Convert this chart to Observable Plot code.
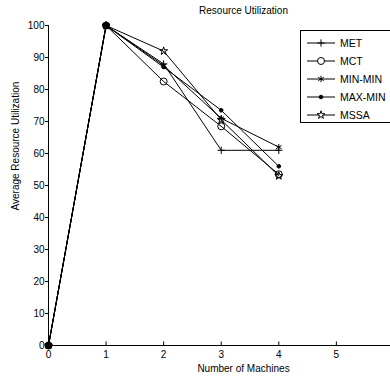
<!DOCTYPE html>
<html>
<head>
<meta charset="utf-8">
<script src="https://cdn.jsdelivr.net/npm/d3@7"></script>
<script src="https://cdn.jsdelivr.net/npm/@observablehq/plot@0.6"></script>
<style>
  html, body { margin: 0; padding: 0; background: #fff; }
  #wrap { position: relative; width: 390px; height: 383px; overflow: hidden; font-family: "Liberation Sans", Arial, sans-serif; }
  #legend { position: absolute; left: 300px; top: 30px; }
</style>
</head>
<body>
<div id="wrap"></div>
<script>
const machines = [0, 1, 2, 3, 4];
const seriesNames = ["MET", "MCT", "MIN-MIN", "MAX-MIN", "MSSA"];
const MET = [0, 100, 88, 61, 61];
const MCT = [0, 100, 82.5, 68.5, 53.5];
const MINMIN = [0, 100, 87.5, 71, 62];
const MAXMIN = [0, 100, 87, 73.5, 56];
const MSSA = [0, 100, 92, 70.5, 53];
const xTicks = [0, 1, 2, 3, 4, 5];
const yTicks = [0, 10, 20, 30, 40, 50, 60, 70, 80, 90, 100];
const symbols = {"MET": "plus", "MCT": "circle", "MIN-MIN": "asterisk", "MAX-MIN": "circle", "MSSA": "star"};
const symR = {"MET": 2.5, "MCT": 3.5, "MIN-MIN": 3, "MAX-MIN": 1.8, "MSSA": 2.5};
const symFill = {"MET": "none", "MCT": "none", "MIN-MIN": "none", "MAX-MIN": "black", "MSSA": "none"};

const valuesBySeries = [MET, MCT, MINMIN, MAXMIN, MSSA];
const rows = [];
seriesNames.forEach((s, i) => machines.forEach((m, j) => rows.push({series: s, x: m, y: valuesBySeries[i][j]})));

const marks = [
  Plot.ruleY([0], {stroke: "black", strokeWidth: 1.2}),
  Plot.ruleX([0], {stroke: "black", strokeWidth: 1}),
  Plot.ruleX(xTicks.filter(d => d > 0), {y1: 0, y2: 1.1, stroke: "black", strokeWidth: 1}),
  Plot.axisX({ticks: xTicks, tickSize: 0, tickPadding: 5, tickFormat: d3.format("d"), fontSize: 10, label: null}),
  Plot.axisY({ticks: yTicks, tickSize: 3, tickPadding: 1, fontSize: 10, label: null}),
  Plot.line(rows, {x: "x", y: "y", z: "series", stroke: "black", strokeWidth: 1})
];
seriesNames.forEach(s => {
  marks.push(Plot.dot(rows.filter(r => r.series === s), {
    x: "x", y: "y", symbol: () => symbols[s], r: symR[s], stroke: "black", fill: symFill[s], strokeWidth: 1
  }));
});
// overlapping blobs at common points
marks.push(Plot.dot(rows.filter(r => r.x <= 1 && r.series === "MCT"), {x: "x", y: "y", r: 3.5, fill: "black"}));
marks.push(Plot.text(["Resource Utilization"], {frameAnchor: "top", text: d => d, dy: -19, fontSize: 10, dx: 24}));
marks.push(Plot.text(["Number of Machines"], {frameAnchor: "bottom", text: d => d, dy: 26, fontSize: 10, dx: 24}));
marks.push(Plot.text(["Average Resource Utilization"], {frameAnchor: "left", text: d => d, rotate: -90, dx: -33, dy: 25, fontSize: 10}));

const chart = Plot.plot({
  width: 390,
  height: 383,
  marginLeft: 48,
  marginRight: 0,
  marginTop: 25,
  marginBottom: 38,
  x: {domain: [0, 5.94]},
  y: {domain: [0, 100]},
  style: {fontFamily: "'Liberation Sans', Arial, sans-serif", fontSize: "10px", color: "black", background: "white"},
  marks
});
document.getElementById("wrap").appendChild(chart);

// legend box
const lw = 92, lh = 93;
const leg = d3.select("#wrap").append("svg").attr("id", "legend").attr("width", lw).attr("height", lh)
  .style("font-family", "'Liberation Sans', Arial, sans-serif");
leg.append("rect").attr("x", 0.5).attr("y", 0.5).attr("width", lw - 1).attr("height", lh - 1).attr("fill", "white").attr("stroke", "black");
const symGen = {"plus": d3.symbolPlus, "circle": d3.symbolCircle, "asterisk": d3.symbolAsterisk, "star": d3.symbolStar};
seriesNames.forEach((s, i) => {
  const y = 13 + i * 18;
  leg.append("line").attr("x1", 7).attr("x2", 35).attr("y1", y).attr("y2", y).attr("stroke", "black");
  const r = symR[s];
  leg.append("path").attr("transform", `translate(21,${y})`)
    .attr("d", d3.symbol(symGen[symbols[s]], Math.PI * r * r)())
    .attr("fill", symFill[s] === "black" ? "black" : "white").attr("stroke", "black");
  leg.append("text").attr("x", 40).attr("y", y + 4).attr("font-size", 10.5).text(s);
});
</script>
</body>
</html>
